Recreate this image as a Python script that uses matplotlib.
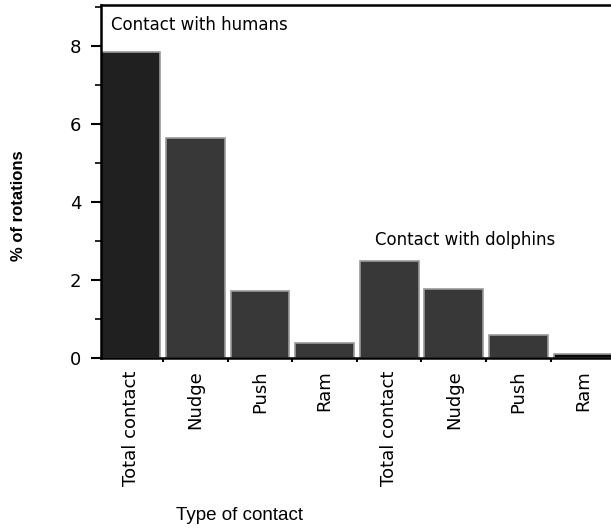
import matplotlib
matplotlib.use("Agg")
import matplotlib.pyplot as plt
from matplotlib.ticker import MultipleLocator, FixedLocator
import numpy as np

categories = ["Total contact", "Nudge", "Push", "Ram",
              "Total contact", "Nudge", "Push", "Ram"]
values = [7.85, 5.64, 1.73, 0.39, 2.49, 1.77, 0.59, 0.10]
group_labels = ["Contact with humans", "Contact with dolphins"]
y_ticks = [0, 2, 4, 6, 8]

fig = plt.figure(figsize=(6.11, 5.28), dpi=100)
ax = fig.add_axes([0.1645, 0.322, 0.8355, 0.6685])

x = np.arange(len(categories))
face = ["#202020"] + ["#383838"] * 6 + ["#080808"]
ax.bar(x, values, width=0.91, color=face, edgecolor="#9a9a9a", linewidth=1.2)

ax.set_xlim(-0.47, 7.435)
ax.set_ylim(0, 9.05)

ax.set_yticks(y_ticks)
ax.yaxis.set_minor_locator(MultipleLocator(1))
ax.set_xticks(x)
ax.set_xticklabels(categories, rotation=90, fontsize=13, family="DejaVu Sans")
ax.xaxis.set_minor_locator(FixedLocator(np.arange(0.5, 7, 1.0)))
ax.tick_params(axis="x", which="major", length=0, pad=9)
ax.tick_params(axis="x", which="minor", length=3, width=1.5, direction="out")
ax.tick_params(axis="y", which="major", length=7, width=1.5, direction="out",
               labelsize=13, pad=7)
ax.tick_params(axis="y", which="minor", length=4, width=1.2, direction="out")

for s in ["left", "top", "bottom"]:
    ax.spines[s].set_linewidth(1.8)
ax.spines["right"].set_visible(False)

ax.text(-0.30, 8.55, group_labels[0], fontsize=12, va="center", ha="left")
ax.text(3.78, 3.03, group_labels[1], fontsize=12, va="center", ha="left")

fig.text(19 / 611, 1 - 206 / 528, "% of rotations", rotation=90, fontsize=12,
         fontweight="bold", family="Liberation Sans", ha="center", va="center")
fig.text(240 / 611, 1 - 515 / 528, "Type of contact", fontsize=13.5,
         family="Liberation Sans", ha="center", va="center")

fig.savefig("out.png", dpi=100)
